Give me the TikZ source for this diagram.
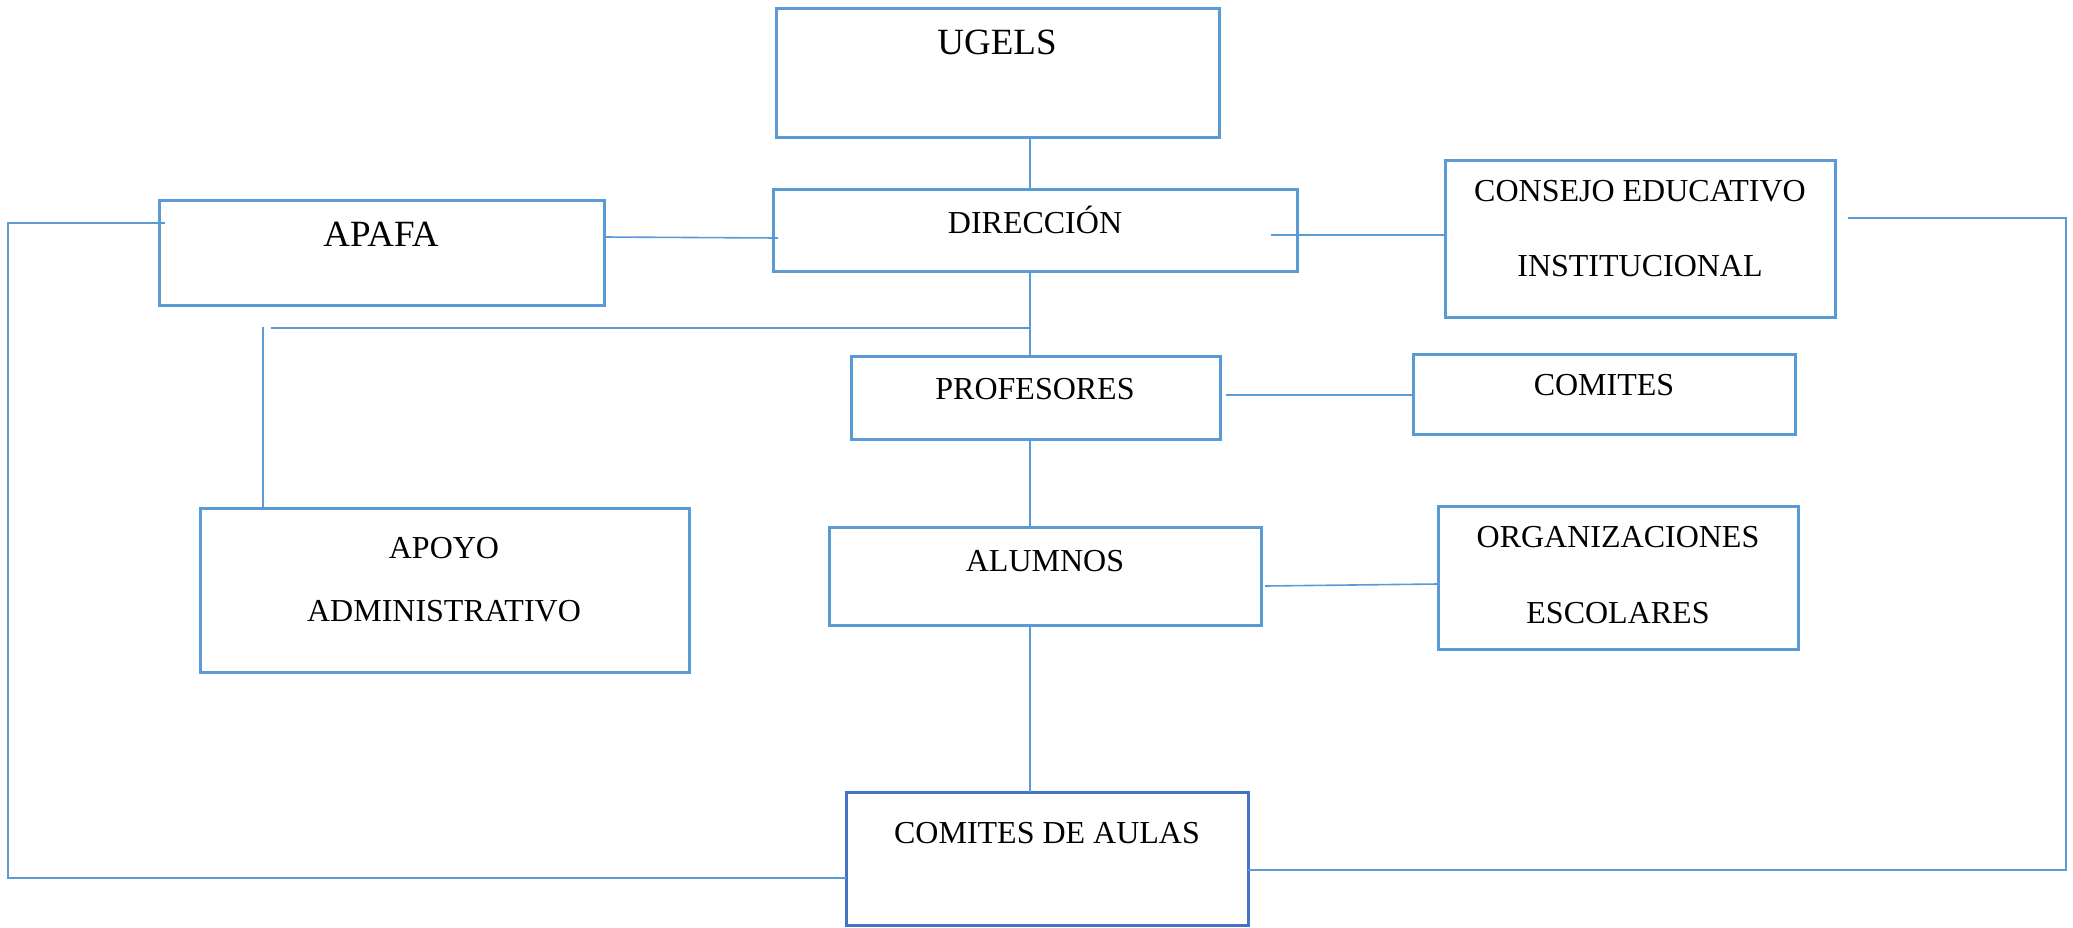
\documentclass[tikz,border=0pt]{standalone}
\usepackage{fontspec}
\setmainfont{Liberation Serif}
\definecolor{boxblue}{HTML}{5B9BD5}
\definecolor{darkblue}{HTML}{4472C4}
\definecolor{lineblue}{HTML}{5B9BD5}
\tikzset{
  orgbox/.style={draw=boxblue, line width=3pt, fill=none, anchor=north west, inner sep=0pt, outer sep=0pt},
  conn/.style={draw=lineblue, line width=1.6pt},
  lbl/.style={anchor=base, inner sep=0pt, font=\fontsize{32}{38}\selectfont},
  biglbl/.style={anchor=base, inner sep=0pt, font=\fontsize{37}{44}\selectfont}
}
\begin{document}
\begin{tikzpicture}[x=1pt,y=-1pt]
\useasboundingbox (0,0) rectangle (2073,927);
% boxes
\node[orgbox, minimum width=443pt, minimum height=129pt] (ugels) at (776,8) {};
\node[orgbox, minimum width=524pt, minimum height=82pt] (dir) at (773,189) {};
\node[orgbox, minimum width=445pt, minimum height=105pt] (apafa) at (159,200) {};
\node[orgbox, minimum width=390pt, minimum height=157pt] (consejo) at (1445,160) {};
\node[orgbox, minimum width=369pt, minimum height=83pt] (prof) at (851,356) {};
\node[orgbox, minimum width=382pt, minimum height=80pt] (comites) at (1413,354) {};
\node[orgbox, minimum width=489pt, minimum height=164pt] (apoyo) at (200,508) {};
\node[orgbox, minimum width=432pt, minimum height=98pt] (alumnos) at (829,527) {};
\node[orgbox, minimum width=360pt, minimum height=143pt] (org) at (1438,506) {};
\node[orgbox, draw=darkblue, minimum width=402pt, minimum height=133pt] (aulas) at (846,792) {};
% labels
\node[biglbl] (t-ugels) at (997,54) {UGELS};
\node[lbl] (t-dir) at (1035,233) {DIRECCIÓN};
\node[biglbl] (t-apafa) at (381,246) {APAFA};
\node[lbl] (t-cons1) at (1640,201) {CONSEJO EDUCATIVO};
\node[lbl] (t-cons2) at (1640,276) {INSTITUCIONAL};
\node[lbl] (t-prof) at (1035,399) {PROFESORES};
\node[lbl] (t-com) at (1604,395) {COMITES};
\node[lbl] (t-apoyo1) at (444,558) {APOYO};
\node[lbl] (t-apoyo2) at (444,621) {ADMINISTRATIVO};
\node[lbl] (t-alum) at (1045,571) {ALUMNOS};
\node[lbl] (t-org1) at (1618,547) {ORGANIZACIONES};
\node[lbl] (t-org2) at (1618,623) {ESCOLARES};
\node[lbl] (t-aulas) at (1047,843) {COMITES DE AULAS};
% helper coordinates
\coordinate (vx) at (1030,0);
\coordinate (hy) at (0,328);
\coordinate (apx) at (263,0);
\coordinate (apstart) at (271,328);
\coordinate (apvtop) at (263,327);
\coordinate (dirIn) at (778,238);
\coordinate (dirOut) at (1271,235);
\coordinate (consOut) at (1848,218);
\coordinate (rightTop) at (2066,218);
\coordinate (rightBot) at (2066,870);
\coordinate (apafaIn) at (165,223);
\coordinate (leftTop) at (8,223);
\coordinate (leftBot) at (8,878);
\coordinate (profOut) at (1226,395);
\coordinate (alumOut) at (1265,586);
% connectors
\draw[conn] (ugels.south -| vx) -- (dir.north -| vx);
\draw[conn] (dir.south -| vx) -- (prof.north -| vx);
\draw[conn] (apstart) -- (hy -| vx);
\draw[conn] (apvtop) -- (apoyo.north -| apx);
\draw[conn] (apafa.east |- 0,237) -- (dirIn);
\draw[conn] (dirOut) -- (consejo.west |- dirOut);
\draw[conn] (consOut) -- (rightTop) -- (rightBot) -- (aulas.east |- rightBot);
\draw[conn] (apafaIn) -- (leftTop) -- (leftBot) -- (aulas.west |- leftBot);
\draw[conn] (profOut) -- (comites.west |- profOut);
\draw[conn] (prof.south -| vx) -- (alumnos.north -| vx);
\draw[conn] (alumOut) -- (org.west |- 0,584);
\draw[conn] (alumnos.south -| vx) -- (aulas.north -| vx);
\end{tikzpicture}
\end{document}
